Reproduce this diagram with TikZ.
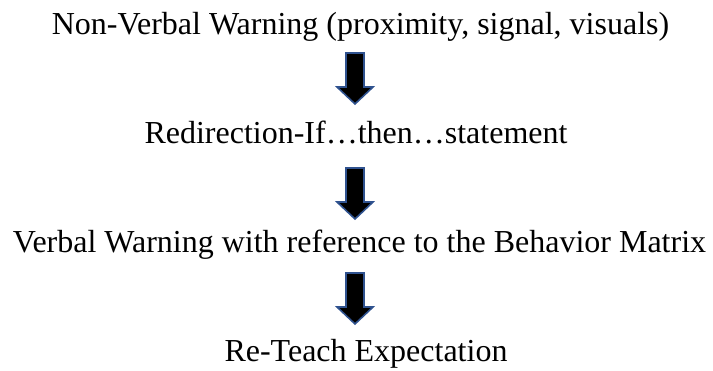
\documentclass[tikz,border=0pt]{standalone}
\usepackage{fontspec}
\setmainfont{Liberation Serif}
\definecolor{arrowblue}{HTML}{2F528F}
\tikzset{
  steptext/.style={anchor=base, inner sep=0pt, font=\fontsize{32}{38}\selectfont},
  blockarrow/.pic={\draw[fill=black, draw=arrowblue, line width=1.6pt, line join=miter]
    (-9,0) -- (9,0) -- (9,34) -- (18,34) -- (0,51) -- (-18,34) -- (-9,34) -- cycle;}
}
\begin{document}
\begin{tikzpicture}[x=1pt,y=-1pt]
\useasboundingbox (0,0) rectangle (713,371);
\node[steptext] (t1) at (360.5,35) {Non-Verbal Warning (proximity, signal, visuals)};
\node[steptext] (t2) at (356,144) {Redirection-If\ldots then\ldots statement};
\node[steptext] (t3) at (359.5,253) {Verbal Warning with reference to the Behavior Matrix};
\node[steptext] (t4) at (366,362) {Re-Teach Expectation};
\pic (a1) at (355,53) {blockarrow};
\pic (a2) at (355,168) {blockarrow};
\pic (a3) at (355,273) {blockarrow};
\end{tikzpicture}
\end{document}
